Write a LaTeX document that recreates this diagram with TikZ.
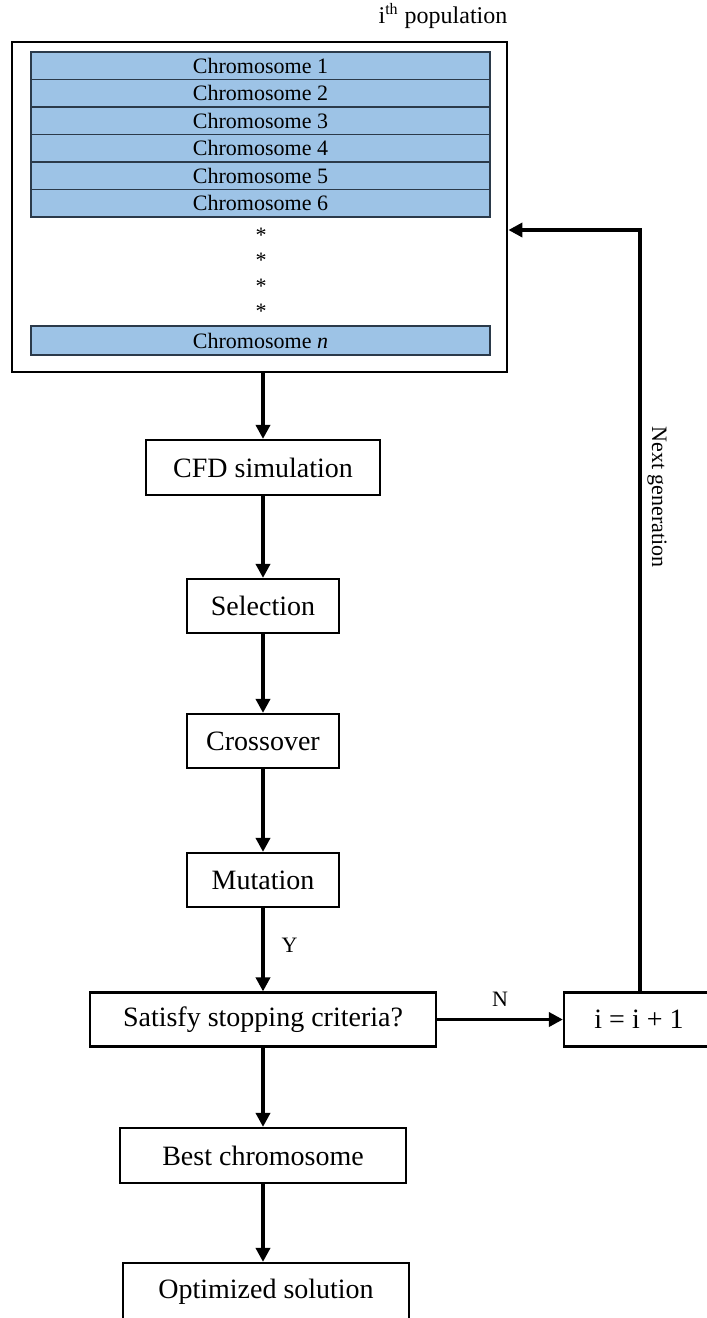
\documentclass[tikz,border=0pt]{standalone}
\usepackage{fontspec}
\setmainfont{Liberation Serif}
\usetikzlibrary{arrows.meta}
\definecolor{barra}{HTML}{9DC3E6}
\definecolor{bordebarra}{HTML}{2B3A4A}
\tikzset{
  caja/.style={draw, line width=1.1pt, inner sep=0pt, minimum height=27.5pt, font=\fontsize{14}{17}\selectfont},
  cromo/.style={draw=bordebarra, line width=0.7pt, fill=barra, inner sep=0pt, minimum width=229.5pt, minimum height=13.75pt, font=\fontsize{11}{13}\selectfont},
  flecha/.style={-{Triangle[length=7pt,width=7pt]}, line width=1.9pt},
  etiqueta/.style={font=\fontsize{11}{13}\selectfont}
}
\begin{document}
\begin{tikzpicture}[x=0.5pt,y=-0.5pt]
\useasboundingbox (0,0) rectangle (707,1318);
% Poblacion i con sus cromosomas
\node[font=\fontsize{12}{14}\selectfont] (titulo) at (443,16) {i\textsuperscript{th} population};
\node[caja, line width=1.4pt, minimum width=247.5pt, minimum height=165pt] (pob) at (259.5,207) {};
\foreach \k/\y in {1/65.75,2/93.25,3/120.75,4/148.25,5/175.75,6/203.25}
  \node[cromo] (c\k) at (260.5,\y) {Chromosome \k};
\foreach \k/\y in {1/235,2/260,3/286,4/311}
  \node[etiqueta] (punto\k) at (261,\y) {*};
\node[cromo, minimum height=14.5pt] (cn) at (260.5,340.5) {Chromosome \textit{n}};
% Pasos del algoritmo
\node[caja, minimum width=117pt] (cfd) at (263,467.5) {CFD simulation};
\node[caja, minimum width=76pt, minimum height=27pt] (sel) at (263,606) {Selection};
\node[caja, minimum width=76pt, minimum height=27pt] (cruce) at (263,741) {Crossover};
\node[caja, minimum width=76pt, minimum height=27pt] (mut) at (263,880) {Mutation};
\node[caja, minimum width=173pt, minimum height=27pt] (crit) at (263,1019.5) {Satisfy stopping criteria?};
\node[caja, minimum width=75pt, minimum height=27pt] (inc) at (639,1019.5) {i = i + 1};
\node[caja, minimum width=143pt] (mejor) at (263,1155.5) {Best chromosome};
\node[caja, minimum width=143pt, minimum height=28.5pt] (opt) at (266,1291.5) {Optimized solution};
% Flechas
\draw[flecha] (pob.south -| cfd) -- (cfd);
\draw[flecha] (cfd) -- (sel);
\draw[flecha] (sel) -- (cruce);
\draw[flecha] (cruce) -- (mut);
\draw[flecha] (mut) -- (crit) node[etiqueta, midway, right=5pt, yshift=2pt] {Y};
\draw[flecha] (crit) -- (inc) node[etiqueta, midway, above=2pt] {N};
\draw[flecha] (crit) -- (mejor);
\draw[flecha] (mejor) -- (mejor |- opt.north);
% Siguiente generacion
\coordinate (retorno) at (640,230);
\draw[flecha] (inc.north -| retorno) -- (retorno) -- (retorno -| pob.east);
\node[etiqueta, rotate=-90] (sig) at (657,497) {Next generation};
\end{tikzpicture}
\end{document}
